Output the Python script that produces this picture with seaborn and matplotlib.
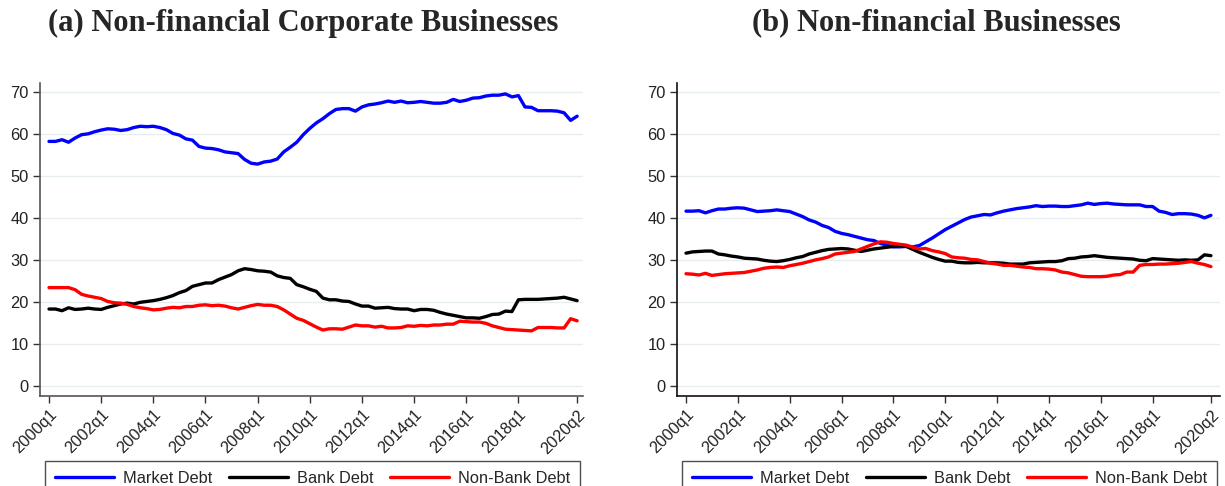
import numpy as np
import pandas as pd
import matplotlib
matplotlib.use("Agg")
import matplotlib.pyplot as plt
import seaborn as sns

# quarterly shares (%), 2000q1 .. 2020q2
corp_market = [58.2, 58.2, 58.6, 58.0, 59.0, 59.8, 60.0, 60.5, 60.9, 61.2,
               61.1, 60.8, 61.0, 61.5, 61.8, 61.7, 61.8, 61.5, 61.0, 60.1,
               59.7, 58.8, 58.5, 57.0, 56.6, 56.5, 56.2, 55.7, 55.5, 55.3,
               53.9, 53.0, 52.8, 53.3, 53.5, 54.0, 55.7, 56.8, 58.0, 59.8,
               61.3, 62.6, 63.6, 64.8, 65.8, 66.0, 66.0, 65.4, 66.4, 66.9,
               67.1, 67.4, 67.8, 67.5, 67.8, 67.4, 67.5, 67.7, 67.5, 67.3,
               67.3, 67.5, 68.2, 67.7, 68.0, 68.5, 68.6, 69.0, 69.2, 69.2,
               69.5, 68.8, 69.1, 66.4, 66.3, 65.5, 65.5, 65.5, 65.4, 65.0,
               63.2, 64.2]
corp_bank = [18.3, 18.3, 17.9, 18.6, 18.2, 18.3, 18.5, 18.3, 18.2, 18.7,
             19.1, 19.5, 19.7, 19.5, 19.9, 20.1, 20.3, 20.6, 21.0, 21.5,
             22.2, 22.7, 23.7, 24.1, 24.5, 24.5, 25.3, 25.9, 26.5, 27.4,
             27.9, 27.7, 27.4, 27.3, 27.1, 26.2, 25.8, 25.6, 24.1, 23.6,
             23.0, 22.5, 20.9, 20.5, 20.5, 20.2, 20.1, 19.5, 19.0, 19.0,
             18.5, 18.6, 18.7, 18.4, 18.3, 18.3, 17.9, 18.2, 18.2, 18.0,
             17.5, 17.1, 16.8, 16.5, 16.2, 16.2, 16.1, 16.5, 17.0, 17.1,
             17.8, 17.7, 20.5, 20.6, 20.6, 20.6, 20.7, 20.8, 20.9, 21.1,
             20.7, 20.3]
corp_nonbank = [23.4, 23.4, 23.4, 23.4, 22.9, 21.8, 21.4, 21.1, 20.8, 20.1,
                19.8, 19.7, 19.4, 18.9, 18.6, 18.4, 18.1, 18.2, 18.5, 18.7,
                18.6, 18.9, 18.9, 19.2, 19.3, 19.1, 19.2, 19.0, 18.6, 18.3,
                18.7, 19.1, 19.4, 19.2, 19.2, 18.9, 18.1, 17.1, 16.1, 15.6,
                14.8, 14.0, 13.3, 13.6, 13.6, 13.5, 14.0, 14.5, 14.3, 14.3,
                14.0, 14.2, 13.8, 13.8, 13.9, 14.3, 14.2, 14.4, 14.3, 14.5,
                14.5, 14.7, 14.7, 15.4, 15.3, 15.2, 15.2, 14.9, 14.3, 13.9,
                13.5, 13.4, 13.3, 13.2, 13.1, 13.9, 13.9, 13.9, 13.8, 13.8,
                16.0, 15.5]

bus_market = [41.6, 41.6, 41.7, 41.2, 41.7, 42.1, 42.1, 42.3, 42.4, 42.3,
              41.9, 41.5, 41.6, 41.7, 41.9, 41.7, 41.5, 40.9, 40.3, 39.5,
              39.0, 38.2, 37.7, 36.8, 36.3, 36.0, 35.6, 35.2, 34.8, 34.6,
              33.9, 33.5, 33.1, 33.1, 33.2, 33.1, 33.4, 34.3, 35.2, 36.2,
              37.2, 38.0, 38.8, 39.6, 40.2, 40.5, 40.8, 40.7, 41.2, 41.6,
              41.9, 42.2, 42.4, 42.6, 42.9, 42.7, 42.8, 42.8, 42.7, 42.7,
              42.9, 43.1, 43.5, 43.2, 43.4, 43.5, 43.3, 43.2, 43.1, 43.1,
              43.1, 42.7, 42.7, 41.6, 41.3, 40.8, 41.0, 41.0, 40.9, 40.6,
              40.0, 40.6]
bus_bank = [31.6, 31.9, 32.0, 32.1, 32.1, 31.4, 31.2, 30.9, 30.7, 30.4,
            30.3, 30.2, 29.9, 29.7, 29.6, 29.8, 30.1, 30.5, 30.8, 31.4,
            31.8, 32.2, 32.5, 32.6, 32.7, 32.6, 32.3, 32.0, 32.3, 32.6,
            32.8, 33.0, 33.2, 33.4, 33.2, 32.5, 31.8, 31.2, 30.6, 30.1,
            29.7, 29.7, 29.4, 29.3, 29.3, 29.4, 29.3, 29.3, 29.3, 29.2,
            29.0, 29.0, 29.0, 29.3, 29.4, 29.5, 29.6, 29.6, 29.8, 30.3,
            30.4, 30.7, 30.8, 31.0, 30.8, 30.6, 30.5, 30.4, 30.3, 30.2,
            29.9, 29.8, 30.3, 30.2, 30.1, 30.0, 29.9, 30.0, 29.9, 30.0,
            31.2, 31.0]
bus_nonbank = [26.7, 26.6, 26.4, 26.8, 26.3, 26.5, 26.7, 26.8, 26.9, 27.0,
               27.3, 27.6, 28.0, 28.2, 28.3, 28.2, 28.6, 28.9, 29.2, 29.6,
               30.0, 30.3, 30.7, 31.4, 31.6, 31.8, 32.0, 32.6, 33.2, 33.8,
               34.3, 34.2, 33.9, 33.7, 33.5, 33.0, 32.6, 32.7, 32.2, 31.9,
               31.5, 30.7, 30.5, 30.4, 30.1, 30.0, 29.6, 29.2, 29.0, 28.7,
               28.7, 28.5, 28.3, 28.2, 27.9, 27.9, 27.8, 27.6, 27.1, 26.9,
               26.5, 26.1, 26.0, 26.0, 26.0, 26.1, 26.4, 26.5, 27.1, 27.1,
               28.7, 28.9, 28.9, 29.0, 29.0, 29.1, 29.2, 29.4, 29.6, 29.2,
               28.9, 28.4]

series_names = ["Market Debt", "Bank Debt", "Non-Bank Debt"]
series_colors = ["#0000ff", "#000000", "#ff0000"]
tick_pos = [0, 8, 16, 24, 32, 40, 48, 56, 64, 72, 81]
tick_labels = ["2000q1", "2002q1", "2004q1", "2006q1", "2008q1", "2010q1",
               "2012q1", "2014q1", "2016q1", "2018q1", "2020q2"]
titles = ["(a) Non-financial Corporate Businesses", "(b) Non-financial Businesses"]

sns.set_style("white")
plt.rcParams["font.family"] = ["Liberation Sans", "DejaVu Sans"]

W, H = 1225, 486
fig = plt.figure(figsize=(W / 100, H / 100), dpi=100)
ax1 = fig.add_axes([40 / W, 1 - 396 / H, (583 - 40) / W, (396 - 83) / H])
ax2 = fig.add_axes([677 / W, 1 - 396 / H, (1220 - 677) / W, (396 - 83) / H])

panels = [(ax1, [corp_market, corp_bank, corp_nonbank], (-1.38, 81.9), 303),
          (ax2, [bus_market, bus_bank, bus_nonbank], (-1.39, 82.4), 936)]

for i, (ax, data, xlim, tcx) in enumerate(panels):
    df = pd.DataFrame({name: vals for name, vals in zip(series_names, data)})
    df["q"] = np.arange(len(df))
    long = df.melt(id_vars="q", var_name="series", value_name="share")
    sns.lineplot(data=long, x="q", y="share", hue="series", hue_order=series_names,
                 palette=series_colors, linewidth=2.4, ax=ax, legend=False)
    ax.set_xlim(*xlim)
    ax.set_ylim(-2.4, 72.1)
    ax.set_yticks(range(0, 71, 10))
    ax.set_xticks(tick_pos)
    ax.set_xticklabels(tick_labels, rotation=45, ha="right", rotation_mode="anchor")
    ax.set_xlabel("")
    ax.set_ylabel("")
    ax.yaxis.grid(True, color="#e6eef2", linewidth=1)
    ax.set_axisbelow(True)
    for s in ["top", "right"]:
        ax.spines[s].set_visible(False)
    for s in ["left", "bottom"]:
        ax.spines[s].set_color("#555555" if i == 0 else "#111111")
        ax.spines[s].set_linewidth(1.2)
    ax.tick_params(axis="both", direction="out", length=5, width=1,
                   color="#333333", labelsize=11.8, labelcolor="#222222", pad=3,
                   bottom=True, left=True)

    handles = ax.get_lines()[:3]
    x0 = (ax.get_position().x0 * W + 5) / W
    wpx = ax.get_position().width * W - 8
    ax.legend(handles, series_names, loc="upper left", ncol=3, mode="expand",
              bbox_to_anchor=(x0, 0, wpx / W, 1 - 461 / H),
              bbox_transform=fig.transFigure, fontsize=11.8, frameon=True,
              fancybox=False, edgecolor="#222222", handlelength=3.6,
              handletextpad=0.55, columnspacing=1.6, borderpad=0.6,
              borderaxespad=0)
    ax.get_legend().get_frame().set_linewidth(1.0)

    fig.text(tcx / W, 1 - 23 / H, titles[i], ha="center", va="center",
             fontsize=22, fontweight="bold", family=["Liberation Serif", "DejaVu Serif"])

fig.savefig("out.png", dpi=100)
